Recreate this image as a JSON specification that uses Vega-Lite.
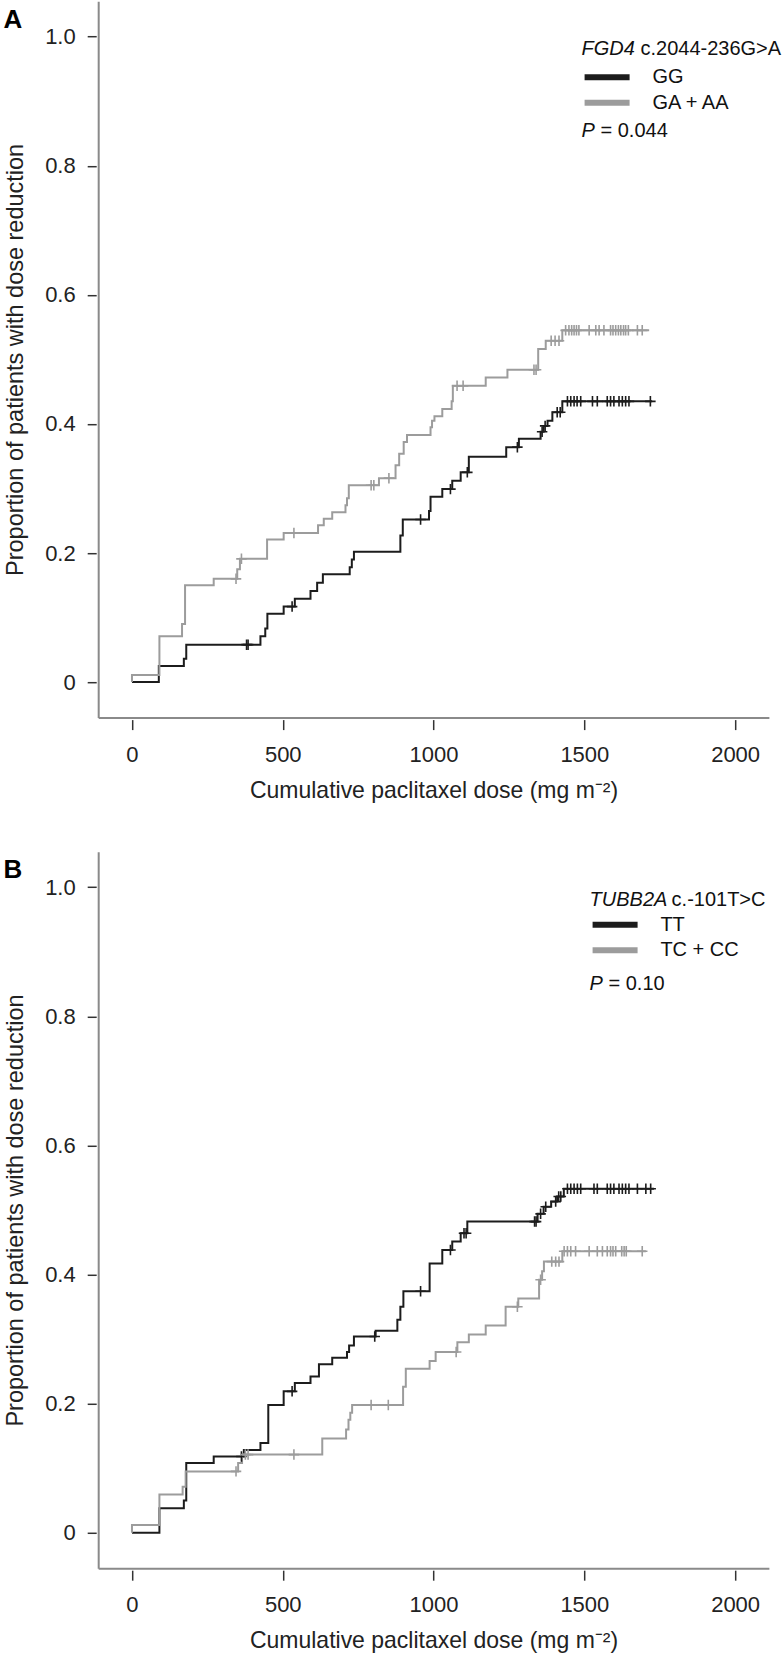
{
  "$schema": "https://vega.github.io/schema/vega-lite/v6.json",
  "background": "white",
  "padding": {"left": 3.2, "top": 1.2, "right": 0, "bottom": 0},
  "config": {
    "view": {"stroke": null},
    "font": "Liberation Sans",
    "axis": {"grid": false, "labelFont": "Liberation Sans", "titleFont": "Liberation Sans"},
    "legend": {"labelFont": "Liberation Sans"}
  },
  "datasets": {
    "lineA": [
      {"group": "GG", "x": 0, "y": 0}, {"group": "GG", "x": 89, "y": 0.025}, {"group": "GG", "x": 172, "y": 0.036}, {"group": "GG", "x": 180, "y": 0.058},
      {"group": "GG", "x": 426, "y": 0.071}, {"group": "GG", "x": 442, "y": 0.083}, {"group": "GG", "x": 449, "y": 0.106}, {"group": "GG", "x": 503, "y": 0.117},
      {"group": "GG", "x": 540, "y": 0.129}, {"group": "GG", "x": 592, "y": 0.141}, {"group": "GG", "x": 614, "y": 0.154}, {"group": "GG", "x": 633, "y": 0.167},
      {"group": "GG", "x": 722, "y": 0.178}, {"group": "GG", "x": 729, "y": 0.19}, {"group": "GG", "x": 736, "y": 0.202}, {"group": "GG", "x": 890, "y": 0.227},
      {"group": "GG", "x": 898, "y": 0.252}, {"group": "GG", "x": 985, "y": 0.265}, {"group": "GG", "x": 990, "y": 0.287}, {"group": "GG", "x": 1029, "y": 0.299},
      {"group": "GG", "x": 1062, "y": 0.312}, {"group": "GG", "x": 1090, "y": 0.325}, {"group": "GG", "x": 1117, "y": 0.349}, {"group": "GG", "x": 1241, "y": 0.364},
      {"group": "GG", "x": 1283, "y": 0.377}, {"group": "GG", "x": 1355, "y": 0.388}, {"group": "GG", "x": 1365, "y": 0.397}, {"group": "GG", "x": 1378, "y": 0.405},
      {"group": "GG", "x": 1394, "y": 0.418}, {"group": "GG", "x": 1427, "y": 0.435}, {"group": "GG", "x": 1725, "y": 0.435},
      {"group": "GA + AA", "x": 0, "y": 0}, {"group": "GA + AA", "x": 0, "y": 0.011}, {"group": "GA + AA", "x": 91, "y": 0.071}, {"group": "GA + AA", "x": 166, "y": 0.09},
      {"group": "GA + AA", "x": 176, "y": 0.15}, {"group": "GA + AA", "x": 271, "y": 0.16}, {"group": "GA + AA", "x": 349, "y": 0.175}, {"group": "GA + AA", "x": 358, "y": 0.191},
      {"group": "GA + AA", "x": 448, "y": 0.221}, {"group": "GA + AA", "x": 503, "y": 0.231}, {"group": "GA + AA", "x": 617, "y": 0.243}, {"group": "GA + AA", "x": 636, "y": 0.253},
      {"group": "GA + AA", "x": 664, "y": 0.263}, {"group": "GA + AA", "x": 708, "y": 0.274}, {"group": "GA + AA", "x": 713, "y": 0.285}, {"group": "GA + AA", "x": 719, "y": 0.305},
      {"group": "GA + AA", "x": 819, "y": 0.316}, {"group": "GA + AA", "x": 874, "y": 0.336}, {"group": "GA + AA", "x": 886, "y": 0.354}, {"group": "GA + AA", "x": 901, "y": 0.372},
      {"group": "GA + AA", "x": 912, "y": 0.383}, {"group": "GA + AA", "x": 990, "y": 0.395}, {"group": "GA + AA", "x": 995, "y": 0.405}, {"group": "GA + AA", "x": 1003, "y": 0.412},
      {"group": "GA + AA", "x": 1029, "y": 0.423}, {"group": "GA + AA", "x": 1060, "y": 0.435}, {"group": "GA + AA", "x": 1064, "y": 0.459}, {"group": "GA + AA", "x": 1173, "y": 0.472},
      {"group": "GA + AA", "x": 1245, "y": 0.484}, {"group": "GA + AA", "x": 1347, "y": 0.516}, {"group": "GA + AA", "x": 1372, "y": 0.529}, {"group": "GA + AA", "x": 1427, "y": 0.545},
      {"group": "GA + AA", "x": 1715, "y": 0.545}
    ],
    "censA": [
      {"group": "GG", "x": 380, "y": 0.058}, {"group": "GG", "x": 385, "y": 0.058}, {"group": "GG", "x": 531, "y": 0.117}, {"group": "GG", "x": 957, "y": 0.252},
      {"group": "GG", "x": 1056, "y": 0.299}, {"group": "GG", "x": 1112, "y": 0.325}, {"group": "GG", "x": 1278, "y": 0.364}, {"group": "GG", "x": 1360, "y": 0.388},
      {"group": "GG", "x": 1370, "y": 0.397}, {"group": "GG", "x": 1410, "y": 0.418}, {"group": "GG", "x": 1420, "y": 0.418}, {"group": "GG", "x": 1444, "y": 0.435},
      {"group": "GG", "x": 1455, "y": 0.435}, {"group": "GG", "x": 1466, "y": 0.435}, {"group": "GG", "x": 1476, "y": 0.435}, {"group": "GG", "x": 1488, "y": 0.435},
      {"group": "GG", "x": 1527, "y": 0.435}, {"group": "GG", "x": 1543, "y": 0.435}, {"group": "GG", "x": 1576, "y": 0.435}, {"group": "GG", "x": 1587, "y": 0.435},
      {"group": "GG", "x": 1598, "y": 0.435}, {"group": "GG", "x": 1615, "y": 0.435}, {"group": "GG", "x": 1626, "y": 0.435}, {"group": "GG", "x": 1637, "y": 0.435},
      {"group": "GG", "x": 1648, "y": 0.435}, {"group": "GG", "x": 1719, "y": 0.435},
      {"group": "GA + AA", "x": 345, "y": 0.16}, {"group": "GA + AA", "x": 363, "y": 0.191}, {"group": "GA + AA", "x": 537, "y": 0.231}, {"group": "GA + AA", "x": 793, "y": 0.305},
      {"group": "GA + AA", "x": 802, "y": 0.305}, {"group": "GA + AA", "x": 852, "y": 0.316}, {"group": "GA + AA", "x": 1078, "y": 0.459}, {"group": "GA + AA", "x": 1098, "y": 0.459},
      {"group": "GA + AA", "x": 1333, "y": 0.484}, {"group": "GA + AA", "x": 1340, "y": 0.484}, {"group": "GA + AA", "x": 1390, "y": 0.529}, {"group": "GA + AA", "x": 1403, "y": 0.529},
      {"group": "GA + AA", "x": 1416, "y": 0.529}, {"group": "GA + AA", "x": 1438, "y": 0.545}, {"group": "GA + AA", "x": 1449, "y": 0.545}, {"group": "GA + AA", "x": 1458, "y": 0.545},
      {"group": "GA + AA", "x": 1466, "y": 0.545}, {"group": "GA + AA", "x": 1474, "y": 0.545}, {"group": "GA + AA", "x": 1482, "y": 0.545}, {"group": "GA + AA", "x": 1516, "y": 0.545},
      {"group": "GA + AA", "x": 1538, "y": 0.545}, {"group": "GA + AA", "x": 1549, "y": 0.545}, {"group": "GA + AA", "x": 1565, "y": 0.545}, {"group": "GA + AA", "x": 1587, "y": 0.545},
      {"group": "GA + AA", "x": 1595, "y": 0.545}, {"group": "GA + AA", "x": 1604, "y": 0.545}, {"group": "GA + AA", "x": 1613, "y": 0.545}, {"group": "GA + AA", "x": 1621, "y": 0.545},
      {"group": "GA + AA", "x": 1630, "y": 0.545}, {"group": "GA + AA", "x": 1637, "y": 0.545}, {"group": "GA + AA", "x": 1646, "y": 0.545}, {"group": "GA + AA", "x": 1676, "y": 0.545},
      {"group": "GA + AA", "x": 1692, "y": 0.545}
    ],
    "lineB": [
      {"group": "TT", "x": 0, "y": 0}, {"group": "TT", "x": 91, "y": 0.038}, {"group": "TT", "x": 172, "y": 0.05}, {"group": "TT", "x": 180, "y": 0.108},
      {"group": "TT", "x": 271, "y": 0.118}, {"group": "TT", "x": 371, "y": 0.128}, {"group": "TT", "x": 426, "y": 0.139}, {"group": "TT", "x": 452, "y": 0.198},
      {"group": "TT", "x": 503, "y": 0.219}, {"group": "TT", "x": 540, "y": 0.232}, {"group": "TT", "x": 592, "y": 0.242}, {"group": "TT", "x": 620, "y": 0.261},
      {"group": "TT", "x": 664, "y": 0.271}, {"group": "TT", "x": 713, "y": 0.28}, {"group": "TT", "x": 720, "y": 0.29}, {"group": "TT", "x": 736, "y": 0.304},
      {"group": "TT", "x": 808, "y": 0.313}, {"group": "TT", "x": 880, "y": 0.33}, {"group": "TT", "x": 890, "y": 0.35}, {"group": "TT", "x": 900, "y": 0.374},
      {"group": "TT", "x": 987, "y": 0.417}, {"group": "TT", "x": 1029, "y": 0.438}, {"group": "TT", "x": 1062, "y": 0.451}, {"group": "TT", "x": 1090, "y": 0.464},
      {"group": "TT", "x": 1112, "y": 0.482}, {"group": "TT", "x": 1345, "y": 0.494}, {"group": "TT", "x": 1365, "y": 0.505}, {"group": "TT", "x": 1390, "y": 0.513},
      {"group": "TT", "x": 1410, "y": 0.521}, {"group": "TT", "x": 1432, "y": 0.533}, {"group": "TT", "x": 1731, "y": 0.533},
      {"group": "TC + CC", "x": 0, "y": 0}, {"group": "TC + CC", "x": 0, "y": 0.012}, {"group": "TC + CC", "x": 91, "y": 0.059}, {"group": "TC + CC", "x": 168, "y": 0.071},
      {"group": "TC + CC", "x": 178, "y": 0.095}, {"group": "TC + CC", "x": 352, "y": 0.108}, {"group": "TC + CC", "x": 365, "y": 0.121}, {"group": "TC + CC", "x": 631, "y": 0.146},
      {"group": "TC + CC", "x": 710, "y": 0.16}, {"group": "TC + CC", "x": 718, "y": 0.175}, {"group": "TC + CC", "x": 724, "y": 0.186}, {"group": "TC + CC", "x": 730, "y": 0.198},
      {"group": "TC + CC", "x": 899, "y": 0.226}, {"group": "TC + CC", "x": 908, "y": 0.254}, {"group": "TC + CC", "x": 987, "y": 0.266}, {"group": "TC + CC", "x": 1007, "y": 0.28},
      {"group": "TC + CC", "x": 1079, "y": 0.295}, {"group": "TC + CC", "x": 1117, "y": 0.307}, {"group": "TC + CC", "x": 1173, "y": 0.321}, {"group": "TC + CC", "x": 1239, "y": 0.35},
      {"group": "TC + CC", "x": 1281, "y": 0.363}, {"group": "TC + CC", "x": 1350, "y": 0.392}, {"group": "TC + CC", "x": 1360, "y": 0.405}, {"group": "TC + CC", "x": 1366, "y": 0.42},
      {"group": "TC + CC", "x": 1427, "y": 0.436}, {"group": "TC + CC", "x": 1704, "y": 0.436}
    ],
    "censB": [
      {"group": "TT", "x": 363, "y": 0.118}, {"group": "TT", "x": 531, "y": 0.219}, {"group": "TT", "x": 805, "y": 0.304}, {"group": "TT", "x": 957, "y": 0.374},
      {"group": "TT", "x": 1056, "y": 0.438}, {"group": "TT", "x": 1101, "y": 0.464}, {"group": "TT", "x": 1108, "y": 0.464}, {"group": "TT", "x": 1335, "y": 0.482},
      {"group": "TT", "x": 1340, "y": 0.482}, {"group": "TT", "x": 1355, "y": 0.494}, {"group": "TT", "x": 1372, "y": 0.505}, {"group": "TT", "x": 1405, "y": 0.513},
      {"group": "TT", "x": 1415, "y": 0.521}, {"group": "TT", "x": 1422, "y": 0.521}, {"group": "TT", "x": 1444, "y": 0.533}, {"group": "TT", "x": 1455, "y": 0.533},
      {"group": "TT", "x": 1466, "y": 0.533}, {"group": "TT", "x": 1477, "y": 0.533}, {"group": "TT", "x": 1488, "y": 0.533}, {"group": "TT", "x": 1532, "y": 0.533},
      {"group": "TT", "x": 1543, "y": 0.533}, {"group": "TT", "x": 1576, "y": 0.533}, {"group": "TT", "x": 1587, "y": 0.533}, {"group": "TT", "x": 1598, "y": 0.533},
      {"group": "TT", "x": 1615, "y": 0.533}, {"group": "TT", "x": 1626, "y": 0.533}, {"group": "TT", "x": 1637, "y": 0.533}, {"group": "TT", "x": 1648, "y": 0.533},
      {"group": "TT", "x": 1676, "y": 0.533}, {"group": "TT", "x": 1704, "y": 0.533}, {"group": "TT", "x": 1720, "y": 0.533},
      {"group": "TC + CC", "x": 345, "y": 0.095}, {"group": "TC + CC", "x": 376, "y": 0.121}, {"group": "TC + CC", "x": 385, "y": 0.121}, {"group": "TC + CC", "x": 537, "y": 0.121},
      {"group": "TC + CC", "x": 793, "y": 0.198}, {"group": "TC + CC", "x": 850, "y": 0.198}, {"group": "TC + CC", "x": 1075, "y": 0.28}, {"group": "TC + CC", "x": 1278, "y": 0.35},
      {"group": "TC + CC", "x": 1355, "y": 0.392}, {"group": "TC + CC", "x": 1392, "y": 0.42}, {"group": "TC + CC", "x": 1405, "y": 0.42}, {"group": "TC + CC", "x": 1416, "y": 0.42},
      {"group": "TC + CC", "x": 1433, "y": 0.436}, {"group": "TC + CC", "x": 1444, "y": 0.436}, {"group": "TC + CC", "x": 1455, "y": 0.436}, {"group": "TC + CC", "x": 1471, "y": 0.436},
      {"group": "TC + CC", "x": 1516, "y": 0.436}, {"group": "TC + CC", "x": 1543, "y": 0.436}, {"group": "TC + CC", "x": 1560, "y": 0.436}, {"group": "TC + CC", "x": 1576, "y": 0.436},
      {"group": "TC + CC", "x": 1587, "y": 0.436}, {"group": "TC + CC", "x": 1595, "y": 0.436}, {"group": "TC + CC", "x": 1604, "y": 0.436}, {"group": "TC + CC", "x": 1624, "y": 0.436},
      {"group": "TC + CC", "x": 1632, "y": 0.436}, {"group": "TC + CC", "x": 1639, "y": 0.436}, {"group": "TC + CC", "x": 1692, "y": 0.436}
    ],
    "one": [{}]
  },
  "spacing": 133.6,
  "bounds": "flush",
  "resolve": {"scale": {"color": "independent"}, "legend": {"color": "independent"}},
  "vconcat": [
    {
      "width": 670.7,
      "height": 716.4,
      "title": {"text": "A", "anchor": "start", "frame": "group", "orient": "top", "baseline": "top", "offset": -31.6, "dx": -94.8, "fontSize": 26, "fontWeight": "bold", "font": "Liberation Sans", "color": "#000"},
      "resolve": {"axis": {"x": "independent", "y": "independent"}},
      "layer": [
        {
          "data": {"name": "lineA"},
          "mark": {"type": "line", "interpolate": "step-after", "strokeWidth": 2},
          "encoding": {
            "x": {"field": "x", "type": "quantitative", "scale": {"domain": [-112, 2112], "nice": false, "zero": false},
                  "axis": {"orient": "bottom", "domain": true, "domainColor": "#8a8a8a", "domainWidth": 2, "ticks": false, "labels": false, "title": null, "grid": false}},
            "y": {"field": "y", "type": "quantitative", "scale": {"domain": [-0.055, 1.055], "nice": false, "zero": false},
                  "axis": {"orient": "left", "domain": true, "domainColor": "#8a8a8a", "domainWidth": 2, "ticks": false, "labels": false, "title": null, "grid": false}},
            "color": {"field": "group", "type": "nominal", "scale": {"domain": ["GG", "GA + AA"], "range": ["#1c1c1c", "#9c9c9c"]},
                      "legend": {"orient": "none", "legendX": 483.4, "legendY": 63, "title": null, "symbolType": "M-2.25,0H2.25", "symbolStrokeWidth": 6, "symbolSize": 400, "symbolOffset": 12.5,
                                 "labelFontSize": 20, "labelColor": "#111", "labelOffset": 32.3, "rowPadding": 0.5, "padding": 0}}
          }
        },
        {
          "data": {"name": "censA"},
          "mark": {"type": "point", "shape": "M0,-1V1M-1,0H1", "filled": false, "strokeWidth": 1.6, "size": 110, "opacity": 1},
          "encoding": {
            "x": {"field": "x", "type": "quantitative",
                  "axis": {"orient": "bottom", "offset": 2, "domain": false, "values": [0, 500, 1000, 1500, 2000], "format": "d", "tickSize": 10, "tickWidth": 1.5, "tickColor": "#333",
                           "labelFontSize": 22, "labelColor": "#222", "labelPadding": 14.8, "title": "Cumulative paclitaxel dose (mg m⁻²)", "titleFontSize": 23, "titleFontWeight": "normal",
                           "titleColor": "#222", "titleBaseline": "alphabetic", "titleY": 77.7}},
            "y": {"field": "y", "type": "quantitative",
                  "axis": {"orient": "left", "offset": 2, "domain": false, "values": [0, 0.2, 0.4, 0.6, 0.8, 1], "labelExpr": "datum.value == 0 ? '0' : format(datum.value, '.1f')",
                           "tickSize": 9, "tickWidth": 1.5, "tickColor": "#333", "labelFontSize": 22, "labelColor": "#222", "labelPadding": 12,
                           "title": "Proportion of patients with dose reduction", "titleFontSize": 23.5, "titleFontWeight": "normal", "titleColor": "#222",
                           "titleBaseline": "alphabetic", "titleAlign": "center", "titleAngle": 270, "titleX": -73.8, "titleY": 358.2}},
            "color": {"field": "group", "type": "nominal", "legend": null}
          }
        },
        {
          "data": {"name": "one"},
          "mark": {"type": "text", "align": "left", "baseline": "alphabetic", "fontSize": 20, "fontStyle": "italic", "font": "Liberation Sans", "color": "#111"},
          "encoding": {"x": {"datum": 1491, "type": "quantitative", "axis": null}, "y": {"datum": 0.9713, "type": "quantitative", "axis": null}, "text": {"value": "FGD4"}}
        },
        {
          "data": {"name": "one"},
          "mark": {"type": "text", "align": "left", "baseline": "alphabetic", "fontSize": 20, "dx": 58.9, "font": "Liberation Sans", "color": "#111"},
          "encoding": {"x": {"datum": 1491, "type": "quantitative", "axis": null}, "y": {"datum": 0.9713, "type": "quantitative", "axis": null}, "text": {"value": "c.2044-236G>A"}}
        },
        {
          "data": {"name": "one"},
          "mark": {"type": "text", "align": "left", "baseline": "alphabetic", "fontSize": 20, "fontStyle": "italic", "font": "Liberation Sans", "color": "#111"},
          "encoding": {"x": {"datum": 1491, "type": "quantitative", "axis": null}, "y": {"datum": 0.8448, "type": "quantitative", "axis": null}, "text": {"value": "P"}}
        },
        {
          "data": {"name": "one"},
          "mark": {"type": "text", "align": "left", "baseline": "alphabetic", "fontSize": 20, "dx": 18.9, "font": "Liberation Sans", "color": "#111"},
          "encoding": {"x": {"datum": 1491, "type": "quantitative", "axis": null}, "y": {"datum": 0.8448, "type": "quantitative", "axis": null}, "text": {"value": "= 0.044"}}
        }
      ]
    },
    {
      "width": 670.7,
      "height": 716.4,
      "title": {"text": "B", "anchor": "start", "frame": "group", "orient": "top", "baseline": "top", "offset": -31.6, "dx": -94.8, "fontSize": 26, "fontWeight": "bold", "font": "Liberation Sans", "color": "#000"},
      "resolve": {"axis": {"x": "independent", "y": "independent"}},
      "layer": [
        {
          "data": {"name": "lineB"},
          "mark": {"type": "line", "interpolate": "step-after", "strokeWidth": 2},
          "encoding": {
            "x": {"field": "x", "type": "quantitative", "scale": {"domain": [-112, 2112], "nice": false, "zero": false},
                  "axis": {"orient": "bottom", "domain": true, "domainColor": "#8a8a8a", "domainWidth": 2, "ticks": false, "labels": false, "title": null, "grid": false}},
            "y": {"field": "y", "type": "quantitative", "scale": {"domain": [-0.055, 1.055], "nice": false, "zero": false},
                  "axis": {"orient": "left", "domain": true, "domainColor": "#8a8a8a", "domainWidth": 2, "ticks": false, "labels": false, "title": null, "grid": false}},
            "color": {"field": "group", "type": "nominal", "scale": {"domain": ["TT", "TC + CC"], "range": ["#1c1c1c", "#9c9c9c"]},
                      "legend": {"orient": "none", "legendX": 491.4, "legendY": 60, "title": null, "symbolType": "M-2.25,0H2.25", "symbolStrokeWidth": 6, "symbolSize": 400, "symbolOffset": 12.5,
                                 "labelFontSize": 20, "labelColor": "#111", "labelOffset": 32.3, "rowPadding": 0.5, "padding": 0}}
          }
        },
        {
          "data": {"name": "censB"},
          "mark": {"type": "point", "shape": "M0,-1V1M-1,0H1", "filled": false, "strokeWidth": 1.6, "size": 110, "opacity": 1},
          "encoding": {
            "x": {"field": "x", "type": "quantitative",
                  "axis": {"orient": "bottom", "offset": 2, "domain": false, "values": [0, 500, 1000, 1500, 2000], "format": "d", "tickSize": 10, "tickWidth": 1.5, "tickColor": "#333",
                           "labelFontSize": 22, "labelColor": "#222", "labelPadding": 14.8, "title": "Cumulative paclitaxel dose (mg m⁻²)", "titleFontSize": 23, "titleFontWeight": "normal",
                           "titleColor": "#222", "titleBaseline": "alphabetic", "titleY": 77.7}},
            "y": {"field": "y", "type": "quantitative",
                  "axis": {"orient": "left", "offset": 2, "domain": false, "values": [0, 0.2, 0.4, 0.6, 0.8, 1], "labelExpr": "datum.value == 0 ? '0' : format(datum.value, '.1f')",
                           "tickSize": 9, "tickWidth": 1.5, "tickColor": "#333", "labelFontSize": 22, "labelColor": "#222", "labelPadding": 12,
                           "title": "Proportion of patients with dose reduction", "titleFontSize": 23.5, "titleFontWeight": "normal", "titleColor": "#222",
                           "titleBaseline": "alphabetic", "titleAlign": "center", "titleAngle": 270, "titleX": -73.8, "titleY": 358.2}},
            "color": {"field": "group", "type": "nominal", "legend": null}
          }
        },
        {
          "data": {"name": "one"},
          "mark": {"type": "text", "align": "left", "baseline": "alphabetic", "fontSize": 20, "fontStyle": "italic", "font": "Liberation Sans", "color": "#111"},
          "encoding": {"x": {"datum": 1517.5, "type": "quantitative", "axis": null}, "y": {"datum": 0.9713, "type": "quantitative", "axis": null}, "text": {"value": "TUBB2A"}}
        },
        {
          "data": {"name": "one"},
          "mark": {"type": "text", "align": "left", "baseline": "alphabetic", "fontSize": 20, "dx": 82, "font": "Liberation Sans", "color": "#111"},
          "encoding": {"x": {"datum": 1517.5, "type": "quantitative", "axis": null}, "y": {"datum": 0.9713, "type": "quantitative", "axis": null}, "text": {"value": "c.-101T>C"}}
        },
        {
          "data": {"name": "one"},
          "mark": {"type": "text", "align": "left", "baseline": "alphabetic", "fontSize": 20, "fontStyle": "italic", "font": "Liberation Sans", "color": "#111"},
          "encoding": {"x": {"datum": 1517.5, "type": "quantitative", "axis": null}, "y": {"datum": 0.8415, "type": "quantitative", "axis": null}, "text": {"value": "P"}}
        },
        {
          "data": {"name": "one"},
          "mark": {"type": "text", "align": "left", "baseline": "alphabetic", "fontSize": 20, "dx": 18.9, "font": "Liberation Sans", "color": "#111"},
          "encoding": {"x": {"datum": 1517.5, "type": "quantitative", "axis": null}, "y": {"datum": 0.8415, "type": "quantitative", "axis": null}, "text": {"value": "= 0.10"}}
        }
      ]
    }
  ]
}
